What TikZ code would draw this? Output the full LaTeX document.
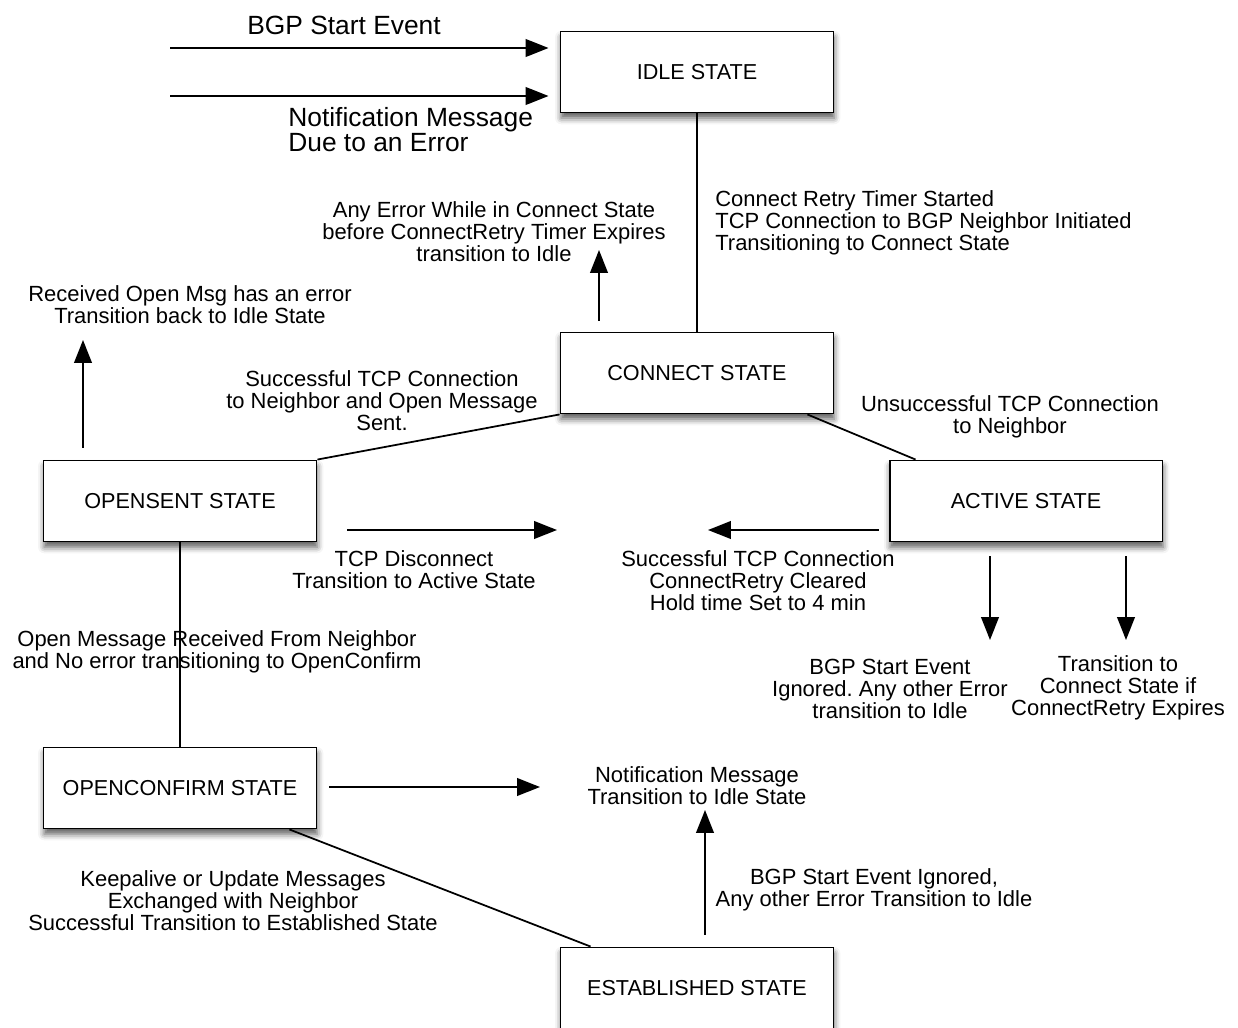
\documentclass[tikz,border=0pt]{standalone}
\usepackage{fontspec}
\setmainfont{Liberation Sans}
\usetikzlibrary{arrows.meta, shadows.blur}
\frenchspacing

\begin{document}
\begin{tikzpicture}[
        x=0.02cm, y=-0.02cm,
        statebox/.style={rectangle, draw, line width=1.1pt, fill=white, minimum width=5.46cm, minimum height=1.62cm, align=center, font=\fontsize{12.3}{13}\selectfont,
            blur shadow={shadow xshift=0.4pt, shadow yshift=-3.2pt, shadow blur radius=3.5pt, shadow opacity=65}},
        lbl/.style={align=center, inner sep=0pt, font=\fontsize{12.5}{12.6}\selectfont},
        biglbl/.style={align=left, inner sep=0pt, font=\fontsize{15}{14.3}\selectfont},
        link/.style={line width=1pt},
        arrow/.style={-{Triangle[length=13pt, width=10pt]}, line width=1.1pt}
    ]
    \useasboundingbox (0,0) rectangle (1238,1028);

    % states
    \node[statebox] (idle) at (697,72) {IDLE STATE};
    \node[statebox] (connect) at (697,373) {CONNECT STATE};
    \node[statebox] (opensent) at (180,501) {OPENSENT STATE};
    \node[statebox] (active) at (1026,501) {ACTIVE STATE};
    \node[statebox] (openconfirm) at (180,788) {OPENCONFIRM STATE};
    \node[statebox] (established) at (697,988) {ESTABLISHED STATE};

    % transition texts
    \node[lbl, font=\fontsize{15}{14.3}\selectfont] (bgplbl) at (344,25) {BGP Start Event};
    \node[biglbl, anchor=west] (notiflbl) at (288,130) {Notification Message\\Due to an Error};
    \node[lbl] (errlbl) at (494,232) {Any Error While in Connect State\\before ConnectRetry Timer Expires\\transition to Idle};
    \node[lbl, align=left, anchor=west] (retrylbl) at (715,223) {Connect Retry Timer Started\\TCP Connection to BGP Neighbor Initiated\\Transitioning to Connect State};
    \node[lbl] (rcvlbl) at (190,305) {Received Open Msg has an error\\Transition back to Idle State};
    \node[lbl] (sentlbl) at (382,401) {Successful TCP Connection\\to Neighbor and Open Message\\Sent.};
    \node[lbl] (unsucclbl) at (1010,417) {Unsuccessful TCP Connection\\to Neighbor};
    \node[lbl] (disclbl) at (414,570) {TCP Disconnect\\Transition to Active State};
    \node[lbl] (holdlbl) at (758,581) {Successful TCP Connection\\ConnectRetry Cleared\\Hold time Set to 4 min};
    \node[lbl] (ignlbl) at (890,689) {BGP Start Event\\Ignored. Any other Error\\transition to Idle};
    \node[lbl] (expirelbl) at (1118,688) {Transition to\\Connect State if\\ConnectRetry Expires};
    \node[lbl] (openlbl) at (217,652) {Open Message Received From Neighbor\\and No error transitioning to OpenConfirm};
    \node[lbl] (idlenotiflbl) at (697,786) {Notification Message\\Transition to Idle State};
    \node[lbl] (keeplbl) at (233,901) {Keepalive or Update Messages\\Exchanged with Neighbor\\Successful Transition to Established State};
    \node[lbl] (estidlelbl) at (874,890) {BGP Start Event Ignored,\\Any other Error Transition to Idle};

    % loose arrow ends
    \coordinate (bgpin) at (170,48);
    \coordinate (notifin) at (170,96);
    \coordinate (errup) at (599,250);
    \coordinate (rcvup) at (83,340);
    \coordinate (discfrom) at (347,530);
    \coordinate (discto) at (557,530);
    \coordinate (holdto) at (708,530);
    \coordinate (igndown) at (990,640);
    \coordinate (expiredown) at (1126,640);
    \coordinate (notifto) at (540,787);
    \coordinate (estup) at (705,810);

    % plain transitions
    \draw[link] (idle.south) -- (connect.north);
    \draw[link] (opensent.north east) -- (connect.south west);
    \draw[link] ([xshift=-0.54cm]connect.south east) -- ([xshift=0.54cm]active.north west);
    \draw[link] (opensent.south) -- (openconfirm.north);
    \draw[link] ([xshift=-0.56cm]openconfirm.south east) -- ([xshift=0.62cm]established.north west);

    % arrows
    \draw[arrow, shorten >=0.22cm] (bgpin) -- (idle.west |- bgpin);
    \draw[arrow, shorten >=0.22cm] (notifin) -- (idle.west |- notifin);
    \draw[arrow, shorten <=0.22cm] (connect.north -| errup) -- (errup);
    \draw[arrow, shorten <=0.24cm] (opensent.north -| rcvup) -- (rcvup);
    \draw[arrow] (discfrom) -- (discto);
    \draw[arrow, shorten <=0.2cm] (active.west |- holdto) -- (holdto);
    \draw[arrow, shorten <=0.28cm] (active.south -| igndown) -- (igndown);
    \draw[arrow, shorten <=0.28cm] (active.south -| expiredown) -- (expiredown);
    \draw[arrow, shorten <=0.24cm] (openconfirm.east |- notifto) -- (notifto);
    \draw[arrow, shorten <=0.24cm] (established.north -| estup) -- (estup);
\end{tikzpicture}
\end{document}
